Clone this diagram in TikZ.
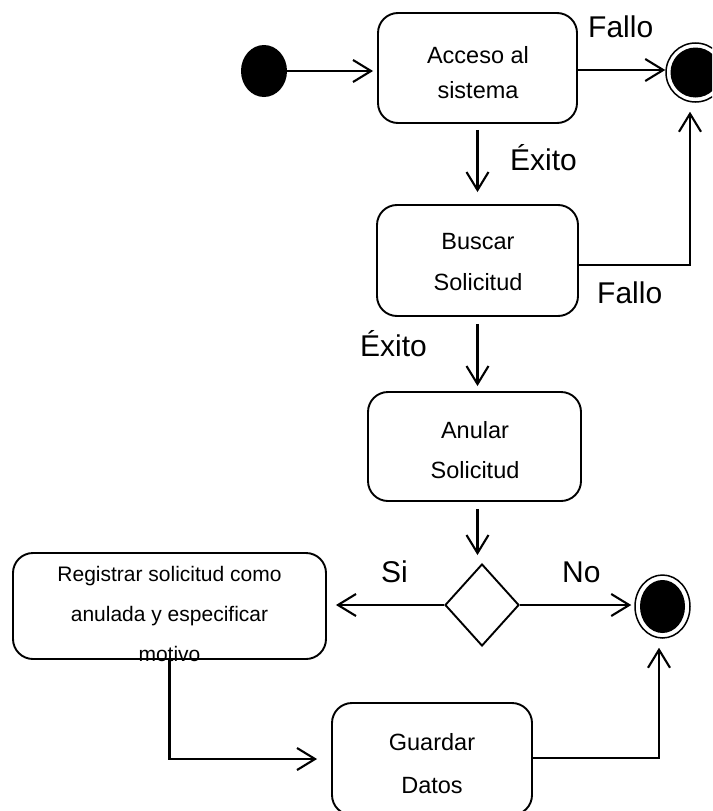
\documentclass[tikz,border=0pt]{standalone}
\usepackage{fontspec}
\setmainfont{Liberation Sans}
\usetikzlibrary{arrows.meta,shapes.geometric}

\begin{document}
\begin{tikzpicture}[x=1pt,y=-1pt,
  act/.style={draw, rounded corners=20pt, line width=1.9pt, inner sep=0pt},
  acttext/.style={inner sep=0pt, align=center, font=\fontsize{23.5}{#1}\selectfont},
  acttext/.default=40,
  smalltext/.style={inner sep=0pt, align=center, font=\fontsize{21}{40}\selectfont},
  lbl/.style={inner sep=0pt, anchor=base west, font=\fontsize{30}{36}\selectfont},
  flow/.style={line width=2.1pt, -{Straight Barb[length=18pt,width=22pt,line width=2.1pt]}},
  initial/.style={ellipse, fill=black, inner sep=0pt, minimum width=46pt, minimum height=52pt},
  ring/.style={ellipse, draw, line width=1.5pt, inner sep=0pt},
  core/.style={ellipse, fill=black, inner sep=0pt},
  decision/.style={diamond, draw, line width=1.9pt, inner sep=0pt,
    minimum width=74pt, minimum height=82pt},
]
\useasboundingbox (0,0) rectangle (712,811);
\clip (0,0) rectangle (712,811);

% start and final states
\node[initial] (start) at (264,71) {};
\node[ring, minimum width=59pt, minimum height=59pt] (end1) at (695.5,72.5) {};
\node[core, minimum width=50pt, minimum height=50pt] (end1c) at (end1) {};
\node[ring, minimum width=55pt, minimum height=63pt] (end2) at (662.5,606.5) {};
\node[core, minimum width=45pt, minimum height=53pt] (end2c) at (end2) {};

% activities (frame, then its text)
\node[act, minimum width=199pt, minimum height=110pt] (acceso) at (477.5,68) {};
\node[acttext=35] (acceso-t) at (478,72.5) {Acceso al\\sistema};
\node[act, minimum width=201pt, minimum height=111pt] (buscar) at (477.5,260.5) {};
\node[acttext=41] (buscar-t) at (478,262.5) {Buscar\\Solicitud};
\node[act, minimum width=213pt, minimum height=109pt] (anular) at (474.5,446.5) {};
\node[acttext=40] (anular-t) at (475,450) {Anular\\Solicitud};
\node[act, minimum width=313pt, minimum height=106pt] (registrar) at (169.5,606) {};
\node[smalltext] (registrar-t) at (169.5,614) {Registrar solicitud como\\anulada y especificar\\motivo};
\node[act, minimum width=200pt, minimum height=112pt] (guardar) at (432,759) {};
\node[acttext=43] (guardar-t) at (432,763.5) {Guardar\\Datos};

% decision
\node[decision] (dec) at (482,605) {};

% transitions
\draw[flow, shorten >=4pt] (start) -- (start -| acceso.west);
\draw[flow] ([yshift=-2pt]acceso.east) -- ([yshift=-2pt]acceso.east -| end1.west);
\draw[flow, shorten <=6pt, shorten >=12pt] (acceso.south) -- (buscar.north);
\coordinate (fbend) at (690,265);
\draw[flow, shorten >=9pt] (buscar.east |- fbend) -- (fbend) -- (fbend |- end1.south);
\draw[flow, shorten <=7pt, shorten >=5pt] (buscar.south) -- (buscar.south |- anular.north);
\draw[flow, shorten <=7pt, shorten >=8pt] (anular.south -| buscar.south) -- (dec.north -| buscar.south);
\draw[flow, shorten >=9pt] (dec.west) -- (dec.west -| registrar.east);
\draw[flow, shorten >=3pt] (dec.east) -- (dec.east -| end2.west);
\draw[flow, shorten >=14pt] (registrar.south) |- (guardar.west);
\coordinate (gbend) at (659,758);
\draw[flow, shorten >=9pt] (guardar.east |- gbend) -- (gbend) -- (gbend |- end2.south);

% guard labels
\node[lbl] (fallo1) at (588,37) {Fallo};
\node[lbl] (exito1) at (510,170) {Éxito};
\node[lbl] (fallo2) at (597,303) {Fallo};
\node[lbl] (exito2) at (360,356) {Éxito};
\node[lbl] (si) at (381,582) {Si};
\node[lbl] (no) at (562,582) {No};
\end{tikzpicture}
\end{document}
